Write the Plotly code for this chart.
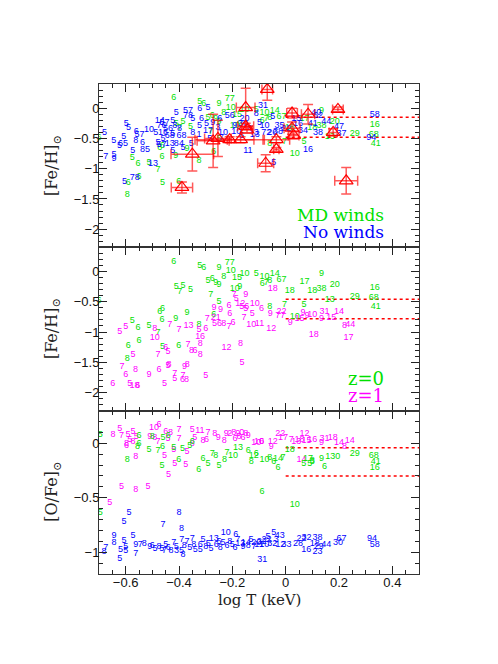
import plotly.graph_objects as go
from plotly.subplots import make_subplots

GREEN = '#00e000'
BLUE = '#0000ff'
MAGENTA = '#ff00ff'
RED = '#ff0000'

# MD winds, z=0 : log T, label (particle count), [Fe/H]  (same set in top and middle panels)
green_x = [-0.700, -0.420, -0.322, -0.307, -0.250, -0.210, -0.206, -0.154, -0.182, -0.232,
           -0.291, -0.275, -0.262, -0.250, -0.191, -0.172, -0.410, -0.385, -0.397, -0.357,
           -0.281, -0.250, -0.270, -0.370, -0.462, -0.472, -0.464, -0.412, -0.575, -0.554,
           -0.512, -0.479, -0.550, -0.590, -0.462, -0.401, -0.594, -0.325, -0.110, -0.079,
           -0.041, -0.060, -0.088, -0.073, -0.016, 0.015, 0.071, 0.134, 0.184, 0.100,
           0.134, 0.165, 0.069, 0.259, 0.334, 0.330, 0.338, 0.034, -0.060, -0.004]
green_lbl = ['6', '6', '5', '6', '9', '77', '10', '10', '15', '8',
             '5', '6', '9', '9', '10', '9', '5', '5', '7', '5',
             '7', '5', '6', '9', '6', '6', '6', '9', '5', '6',
             '5', '7', '6', '6', '5', '6', '8', '8', '5', '10',
             '14', '8', '6', '7', '67', '18', '17', '9', '20', '18',
             '38', '13', '5', '29', '16', '68', '41', '10', '8', '7']
green_feh = [-0.49, 0.165, 0.10, 0.07, 0.066, 0.15, 0.01, -0.03, -0.11, -0.083,
             -0.15, -0.127, -0.18, -0.22, -0.287, -0.249, -0.249, -0.232, -0.331, -0.304,
             -0.387, -0.497, -0.718, -0.674, -0.618, -0.66, -0.80, -0.784, -0.817, -0.922,
             -0.90, -1.01, -1.14, -1.225, -1.236, -1.22, -1.435, -0.872, -0.03, -0.083,
             -0.044, -0.155, -0.21, -0.18, -0.138, -0.32, -0.177, -0.044, -0.221, -0.32,
             -0.287, -0.47, -0.552, -0.425, -0.276, -0.431, -0.58, -0.745, -0.58, -0.552]

# No winds : [Fe/H]
blue_x = [-0.679, -0.645, -0.607, -0.610, -0.623, -0.598, -0.589, -0.675, -0.644, -0.644,
          -0.560, -0.548, -0.562, -0.537, -0.573, -0.527, -0.512, -0.487, -0.479, -0.604,
          -0.566, -0.497, -0.410, -0.366, -0.366, -0.322, -0.291, -0.472, -0.454, -0.423,
          -0.466, -0.460, -0.441, -0.435, -0.460, -0.423, -0.391, -0.416, -0.398, -0.466,
          -0.435, -0.410, -0.391, -0.423, -0.385, -0.348, -0.323, -0.348, -0.325, -0.316,
          -0.297, -0.291, -0.273, -0.254, -0.247, -0.235, -0.241, -0.210, -0.191, -0.185,
          -0.160, -0.154, -0.166, -0.142, -0.116, -0.135, -0.285, -0.354, -0.085, -0.110,
          -0.098, -0.110, -0.073, -0.050, -0.029, -0.048, -0.079, -0.023, 0.002, 0.046,
          0.065, 0.102, 0.115, 0.121, 0.121, 0.152, 0.200, 0.209, 0.321, 0.334,
          0.084, -0.045, 0.040]
blue_lbl = ['5', '5', '5', '65', '5', '5', '5', '7', '5', '9',
            '6', '57', '8', '6', '5', '85', '10', '5', '5', '5',
            '78', '13', '5', '57', '78', '6', '5', '14', '57', '5',
            '76', '16', '56', '68', '5', '5', '68', '8', '8', '57',
            '13', '8', '4', '5', '5', '5', '5', '8', '1', '6',
            '5', '17', '9', '3', '6', '10', '7', '56', '9', '10',
            '30', '20', '6', '11', '13', '4', '5', '5', '31', '8',
            '5', '3', '72', '26', '38', '5', '10', '35', '22', '16',
            '34', '41', '40', '62', '38', '44', '47', '37', '94', '58',
            '16', '5', '15']
blue_feh = [-0.412, -0.544, -0.467, -0.583, -0.621, -0.264, -0.330, -0.797, -0.770, -0.841,
            -0.390, -0.440, -0.544, -0.566, -0.704, -0.693, -0.363, -0.412, -0.566, -1.215,
            -1.144, -0.913, -0.071, -0.044, -0.126, -0.016, 0.011, -0.209, -0.236, -0.209,
            -0.291, -0.401, -0.346, -0.456, -0.500, -0.429, -0.456, -0.291, -0.346, -0.610,
            -0.594, -0.594, -0.583, -0.704, -0.649, -0.181, -0.291, -0.401, -0.445, -0.170,
            -0.264, -0.374, -0.236, -0.319, -0.181, -0.401, -0.484, -0.126, -0.291, -0.390,
            -0.264, -0.181, -0.456, -0.704, -0.440, -0.346, -0.500, -0.594, 0.039, -0.099,
            -0.236, -0.412, -0.412, -0.401, -0.390, -0.137, -0.291, -0.291, -0.346, -0.264,
            -0.374, -0.264, -0.082, -0.126, -0.401, -0.225, -0.308, -0.429, -0.495, -0.110,
            -0.687, -0.896, -0.181]

# MD winds, z=1 : [Fe/H]
mag_x = [-0.622, -0.600, -0.648, -0.614, -0.600, -0.563, -0.572, -0.585, -0.567, -0.555,
         -0.491, -0.491, -0.435, -0.400, -0.450, -0.441, -0.479, -0.512, -0.475, -0.454,
         -0.416, -0.437, -0.441, -0.416, -0.385, -0.387, -0.372, -0.379, -0.369, -0.300,
         -0.366, -0.353, -0.340, -0.320, -0.320, -0.330, -0.312, -0.364, -0.325, -0.300,
         -0.294, -0.269, -0.244, -0.262, -0.257, -0.232, -0.212, -0.210, -0.212, -0.197,
         -0.222, -0.169, -0.164, -0.194, -0.185, -0.150, -0.170, -0.155, -0.150, -0.156,
         -0.129, -0.125, -0.116, -0.091, -0.098, -0.054, -0.058, -0.016, -0.020, 0.017,
         0.052, 0.065, 0.080, 0.100, 0.146, 0.134, 0.200, 0.171, 0.105, 0.221,
         0.242, 0.236, -0.048]
mag_lbl = ['5', '5', '6', '7', '6', '8', '5', '5', '18', '6',
           '10', '8', '7', '7', '6', '5', '7', '9', '6', '5',
           '7', '8', '5', '5', '7', '6', '8', '9', '8', '5',
           '7', '8', '6', '8', '8', '1', '6', '13', '5', '6',
           '7', '9', '9', '21', '56', '8', '6', '6', '7', '6',
           '12', '8', '5', '7', '5', '9', '12', '56', '5', '7',
           '10', '5', '10', '6', '11', '12', '9', '22', '77', '9',
           '15', '9', '9', '10', '31', '9', '14', '15', '18', '8',
           '44', '17', '18']
mag_feh = [-0.994, -0.911, -1.849, -1.573, -1.70, -1.628, -1.38, -1.849, -1.89, -1.88,
           -1.087, -0.938, -0.872, -0.97, -1.26, -1.325, -1.38, -1.71, -1.628, -1.849,
           -1.683, -1.535, -1.56, -1.766, -1.72, -1.79, -1.79, -1.57, -1.535, -1.72,
           -1.214, -1.31, -1.31, -1.37, -1.198, -1.08, -1.08, -0.894, -0.966, -0.95,
           -0.773, -0.60, -0.624, -0.756, -0.856, -0.856, -0.569, -0.696, -0.92, -0.84,
           -1.253, -1.198, -1.507, -0.376, -0.45, -0.387, -0.53, -0.58, -0.62, -0.76,
           -0.884, -0.69, -0.541, -0.618, -0.856, -0.95, -0.69, -0.663, -0.734, -0.84,
           -0.784, -0.68, -0.73, -0.707, -0.663, -0.784, -0.663, -0.762, -1.05, -0.90,
           -0.883, -1.093, -0.287]

# bottom panel [O/Fe]
blue_o_x = [-0.587, -0.606, -0.400, -0.460, -0.391, -0.644, -0.644, -0.675, -0.681, -0.606,
            -0.600, -0.619, -0.600, -0.622, -0.572, -0.562, -0.562, -0.225, -0.187, -0.385,
            -0.545, -0.530, -0.510, -0.500, -0.490, -0.475, -0.465, -0.455, -0.450, -0.440,
            -0.430, -0.420, -0.410, -0.400, -0.390, -0.380, -0.370, -0.360, -0.350, -0.345,
            -0.330, -0.320, -0.310, -0.300, -0.290, -0.280, -0.270, -0.260, -0.250, -0.245,
            -0.235, -0.220, -0.210, -0.200, -0.190, -0.180, -0.170, -0.160, -0.150, -0.140,
            -0.130, -0.120, -0.110, -0.100, -0.090, -0.080, -0.045, -0.022, -0.066, -0.072,
            -0.035, -0.050, -0.020, 0.003, 0.059, 0.078, 0.119, 0.046, 0.077, 0.109,
            0.119, 0.124, 0.152, 0.196, 0.209, 0.324, 0.334, -0.088]
blue_o_lbl = ['5', '5', '8', '7', '8', '9', '8', '7', '8', '5',
              '5', '5', '5', '5', '5', '9', '7', '10', '6', '8',
              '7', '8', '9', '6', '5', '8', '5', '7', '5', '6',
              '8', '7', '5', '35', '7', '8', '7', '5', '7', '8',
              '55', '6', '5', '8', '5', '5', '13', '6', '5', '8',
              '5', '6', '8', '5', '6', '7', '13', '9', '14', '8',
              '5', '7', '20', '11', '22', '10', '5', '43', '5', '22',
              '3', '32', '12', '33', '22', '32', '38', '28', '16', '18',
              '23', '29', '44', '30', '67', '94', '58', '31']
blue_ofe = [-0.636, -0.719, -0.636, -0.744, -0.780, -0.852, -0.910, -0.957, -0.997, -0.898,
            -0.950, -0.980, -0.985, -1.058, -0.852, -0.935, -1.010, -0.818, -0.840, -1.020,
            -0.93, -0.92, -0.95, -0.94, -0.97, -0.95, -0.97, -0.99, -0.93, -0.96,
            -0.99, -0.91, -0.95, -0.99, -0.89, -0.94, -0.90, -0.96, -0.88, -0.93,
            -0.98, -0.93, -0.89, -0.95, -0.92, -0.97, -0.88, -0.93, -0.90, -0.96,
            -0.91, -0.94, -0.90, -0.93, -0.96, -0.89, -0.92, -0.95, -0.91, -0.94,
            -0.89, -0.95, -0.91, -0.93, -0.90, -0.935, -0.820, -0.852, -0.858, -0.889,
            -0.89, -0.92, -0.93, -0.935, -0.873, -0.870, -0.864, -0.926, -0.975, -0.920,
            -0.997, -0.950, -0.935, -0.910, -0.873, -0.873, -0.935, -1.068]

mag_o_x = [-0.660, -0.616, -0.562, -0.516, -0.622, -0.647, -0.616, -0.591, -0.572, -0.585,
           -0.572, -0.560, -0.597, -0.597, -0.562, -0.494, -0.475, -0.510, -0.491, -0.479,
           -0.450, -0.432, -0.400, -0.441, -0.420, -0.400, -0.454, -0.416, -0.439, -0.375,
           -0.370, -0.350, -0.322, -0.291, -0.266, -0.253, -0.223, -0.341, -0.310, -0.297,
           -0.350, -0.230, -0.210, -0.195, -0.180, -0.165, -0.150, -0.175, -0.160, -0.140,
           -0.190, -0.110, -0.100, -0.090, -0.048, -0.054, -0.020, -0.010, 0.021, 0.071,
           0.052, 0.040, 0.100, 0.078, 0.134, 0.146, 0.177, 0.200, 0.240, 0.221,
           0.059]
mag_o_lbl = ['5', '5', '8', '5', '5', '8', '7', '5', '5', '5',
             '8', '5', '8', '6', '8', '10', '6', '9', '8', '7',
             '6', '8', '7', '5', '5', '7', '5', '5', '5', '5',
             '5', '5', '11', '7', '8', '9', '9', '5', '8', '6',
             '8', '8', '2', '8', '9', '0', '8', '8', '6', '9',
             '6', '10', '10', '6', '12', '9', '22', '17', '7', '12',
             '18', '13', '16', '15', '9', '31', '18', '14', '14', '8',
             '14']
mag_ofe = [-0.543, -0.395, -0.426, -0.395, 0.130, 0.083, 0.068, 0.083, 0.105, 0.030,
           0.015, 0.060, -0.003, -0.025, -0.126, 0.145, 0.167, 0.062, 0.053, 0.013,
           0.110, 0.099, 0.124, 0.043, -0.055, 0.040, -0.111, -0.185, -0.287, -0.194,
           -0.080, 0.124, 0.114, 0.093, 0.084, 0.053, 0.084, 0.053, 0.022, 0.037,
           0.000, 0.020, 0.090, 0.095, 0.090, 0.100, 0.085, 0.060, 0.050, 0.070,
           0.040, 0.006, 0.016, 0.016, 0.016, -0.031, 0.084, 0.050, 0.037, 0.084,
           0.030, 0.010, 0.030, 0.020, 0.006, 0.040, 0.053, 0.006, 0.022, -0.034,
           -0.148]

green_o_x = [-0.695, -0.695, -0.594, -0.556, -0.550, -0.512, -0.479, -0.462, -0.460, -0.464,
             -0.401, -0.387, -0.360, -0.350, -0.326, -0.310, -0.291, -0.275, -0.262, -0.250,
             -0.229, -0.220, -0.197, -0.179, -0.129, -0.140, -0.120, -0.079, -0.110, -0.045,
             -0.060, -0.029, -0.010, -0.029, -0.089, 0.034, 0.015, 0.068, 0.084, 0.100,
             0.134, 0.146, 0.177, 0.259, 0.330, 0.338, 0.334, 0.090, 0.100, -0.550,
             -0.500, -0.440, -0.420]
green_o_lbl = ['5', '5', '8', '8', '6', '5', '7', '6', '5', '5',
               '6', '5', '5', '6', '6', '6', '5', '7', '8', '5',
               '8', '7', '10', '13', '8', '6', '12', '10', '6', '6',
               '8', '14', '7', '6', '6', '10', '18', '5', '17', '3',
               '9', '6', '130', '29', '68', '41', '16', '5', '8', '6',
               '8', '6', '5']
green_ofe = [-0.636, 0.083, -0.148, -0.034, 0.068, -0.062, -0.071, -0.031, 0.050, -0.204,
             -0.154, -0.049, -0.020, 0.010, -0.241, -0.139, -0.188, -0.100, -0.110, -0.204,
             -0.154, -0.086, -0.117, -0.040, -0.173, -0.070, -0.110, -0.154, -0.100, -0.170,
             -0.135, -0.140, -0.132, -0.225, -0.441, -0.565, -0.055, -0.185, -0.142, -0.170,
             -0.142, -0.216, -0.126, -0.092, -0.117, -0.170, -0.225, -0.190, -0.160, 0.000,
             0.060, 0.070, -0.040]

# observed clusters (red triangles), top panel
obs_x = [-0.389, -0.350, -0.272, -0.254, -0.210, -0.169, -0.150, -0.150, -0.145, -0.069,
         -0.035, -0.035, -0.075, 0.024, 0.024, 0.030, 0.084, 0.196, 0.178, 0.227]
obs_y = [-1.31, -0.76, -0.54, -0.50, -0.52, -0.52, 0.01, -0.30, -0.36, 0.31,
         -0.52, -0.68, -0.91, -0.08, -0.33, -0.45, -0.10, -0.02, -0.40, -1.20]
obs_xerr = [0.04, 0.08, 0.06, 0.05, 0.13, 0.05, 0.035, 0.03, 0.02, 0.02,
            0.05, 0.01, 0.03, 0.02, 0.03, 0.02, 0.025, 0.02, 0.015, 0.043]
obs_yerr = [0.09, 0.28, 0.44, 0.30, 0.05, 0.05, 0.32, 0.05, 0.05, 0.18,
            0.05, 0.03, 0.14, 0.08, 0.10, 0.06, 0.16, 0.04, 0.06, 0.22]

# dotted reference levels
ref_x = [0.0, 0.5]
ref_top = [-0.15, -0.48]
ref_mid = [-0.46, -0.78]
ref_bot = [-0.04, -0.30]

fig = make_subplots(rows=3, cols=1, shared_xaxes=True, vertical_spacing=0)


def labels(x, y, txt, color, row):
    fig.add_trace(go.Scatter(
        x=x, y=y, text=txt, mode='text',
        textfont=dict(size=9, color=color, family='Liberation Sans'),
        cliponaxis=True, showlegend=False, hoverinfo='skip',
    ), row=row, col=1)


def dotted(levels, row):
    for lv in levels:
        fig.add_trace(go.Scatter(
            x=ref_x, y=[lv, lv], mode='lines',
            line=dict(color=RED, width=1.5, dash='dot'),
            showlegend=False, hoverinfo='skip',
        ), row=row, col=1)


# top panel
dotted(ref_top, 1)
labels(green_x, green_feh, green_lbl, GREEN, 1)
labels(blue_x, blue_feh, blue_lbl, BLUE, 1)
fig.add_trace(go.Scatter(
    x=obs_x, y=obs_y, mode='markers',
    marker=dict(symbol='triangle-up-open', size=12, color=RED, line=dict(width=1.2)),
    error_x=dict(type='data', array=obs_xerr, color='rgba(255,0,0,0.65)', thickness=1.5, width=5),
    error_y=dict(type='data', array=obs_yerr, color='rgba(255,0,0,0.65)', thickness=1.5, width=5),
    showlegend=False,
), row=1, col=1)

# middle panel
dotted(ref_mid, 2)
labels(green_x, green_feh, green_lbl, GREEN, 2)
labels(mag_x, mag_feh, mag_lbl, MAGENTA, 2)

# bottom panel
dotted(ref_bot, 3)
labels(blue_o_x, blue_ofe, blue_o_lbl, BLUE, 3)
labels(mag_o_x, mag_ofe, mag_o_lbl, MAGENTA, 3)
labels(green_o_x, green_ofe, green_o_lbl, GREEN, 3)

axis_common = dict(
    showline=True, linecolor='#333', linewidth=1, mirror='allticks',
    ticks='inside', ticklen=8, tickwidth=1, tickcolor='#222',
    showgrid=False, zeroline=False, ticklabelstandoff=-4,
    tickfont=dict(family='Liberation Sans', size=13, color='#111'),
)

for r in (1, 2, 3):
    fig.update_xaxes(range=[-0.7, 0.5], tick0=0, dtick=0.2,
                     minor=dict(dtick=0.05, ticks='inside', ticklen=4, tickcolor='#222'),
                     row=r, col=1, **axis_common)

fe_ticks = [0, -0.5, -1, -1.5, -2]
fe_text = ['0', '\u22120.5', '\u22121', '\u22121.5', '\u22122']
for r in (1, 2):
    fig.update_yaxes(range=[-2.3, 0.4], tickvals=fe_ticks, ticktext=fe_text,
                     minor=dict(dtick=0.1, ticks='inside', ticklen=4, tickcolor='#222'),
                     row=r, col=1, **axis_common)
fig.update_yaxes(range=[-1.2, 0.3], tickvals=[0, -0.5, -1], ticktext=['0', '\u22120.5', '\u22121'],
                 minor=dict(dtick=0.1, ticks='inside', ticklen=4, tickcolor='#222'),
                 row=3, col=1, **axis_common)

serif = 'DejaVu Serif'
ann = [
    dict(text='[Fe/H]<sub>\u2299</sub>', x=-0.145, y=0.834, xref='paper', yref='paper',
         xanchor='center', yanchor='middle',
         textangle=-90, showarrow=False, font=dict(family=serif, size=16, color='#222')),
    dict(text='[Fe/H]<sub>\u2299</sub>', x=-0.145, y=0.501, xref='paper', yref='paper',
         xanchor='center', yanchor='middle',
         textangle=-90, showarrow=False, font=dict(family=serif, size=16, color='#222')),
    dict(text='[O/Fe]<sub>\u2299</sub>', x=-0.145, y=0.167, xref='paper', yref='paper',
         xanchor='center', yanchor='middle',
         textangle=-90, showarrow=False, font=dict(family=serif, size=16, color='#222')),
    dict(text='log T (keV)', x=0.5, y=-0.053, xref='paper', yref='paper',
         xanchor='center', yanchor='middle',
         showarrow=False, font=dict(family=serif, size=15, color='#222')),
    dict(text='MD winds', x=0.376, y=-1.77, xref='x', yref='y', xanchor='right',
         showarrow=False, font=dict(family=serif, size=17, color=GREEN)),
    dict(text='No winds', x=0.376, y=-2.04, xref='x', yref='y', xanchor='right',
         showarrow=False, font=dict(family=serif, size=17, color=BLUE)),
    dict(text='z=0', x=0.376, y=-1.77, xref='x2', yref='y2', xanchor='right',
         showarrow=False, font=dict(family=serif, size=18, color=GREEN)),
    dict(text='z=1', x=0.376, y=-2.05, xref='x2', yref='y2', xanchor='right',
         showarrow=False, font=dict(family=serif, size=18, color=MAGENTA)),
]

fig.update_layout(
    width=498, height=664,
    margin=dict(l=91, r=87, t=76, b=98),
    paper_bgcolor='white', plot_bgcolor='white',
    annotations=ann, showlegend=False,
)

fig.write_html("out.html")
